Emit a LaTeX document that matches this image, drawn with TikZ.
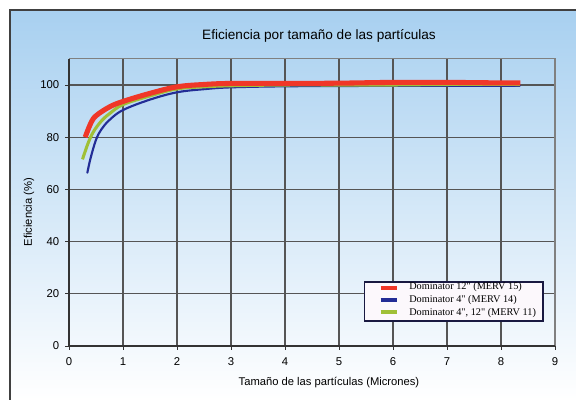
\documentclass[tikz,border=0pt]{standalone}
\usepackage{fontspec}
\setmainfont{Liberation Sans}
\newfontfamily\legendfont{Liberation Serif}
\usetikzlibrary{positioning}
\definecolor{R4}{RGB}{240,55,40}
\definecolor{B4}{RGB}{35,45,150}
\definecolor{G4}{RGB}{160,192,55}
\definecolor{S4}{RGB}{168,208,240}
\definecolor{K4}{RGB}{85,85,85}
\definecolor{N4}{RGB}{25,25,65}
\tikzset{
  ticklab/.style={inner sep=0pt, font=\fontsize{8.5}{8.5}\selectfont},
  axlab/.style={inner sep=0pt, font=\fontsize{8.4}{8.4}\selectfont},
  leglab/.style={inner sep=0pt, anchor=base west, font=\legendfont\fontsize{7.7}{7.7}\selectfont},
}

\begin{document}
\begin{tikzpicture}[x=0.75pt,y=0.75pt]
  \useasboundingbox (0,0) rectangle (576,400);
  \fill[top color=S4, bottom color=white] (10,0) rectangle (576,390);
  \draw[line width=0.9pt, black!75] (10,-2) -- (10,390) -- (578,390);
  \node[inner sep=0pt, font=\fontsize{10.2}{10.2}\selectfont] (title) at (319,364.5) {Eficiencia por tamaño de las partículas};
  \node[axlab] (xlabel) at (329,17.5) {Tamaño de las partículas (Micrones)};
  \node[axlab, rotate=90] (ylabel) at (29,188) {Eficiencia (\%)};
  \begin{scope}[shift={(51.75pt,40.5pt)}, x=40.5pt, y=1.9575pt]
    % grid
    \foreach \i in {1,...,8} \draw[K4, line width=0.9pt] (\i,0) -- (\i,110);
    \foreach \j in {20,40,...,100} \draw[K4, line width=0.9pt] (0,\j) -- (9,\j);
    \draw[gray, line width=0.9pt] (0,110) -- (9,110) -- (9,0);
    \draw[black!80, line width=0.9pt] (0,110) -- (0,0) -- (9,0);
    % ticks and labels
    \foreach \i in {0,...,9} {
      \draw[black!80, line width=0.7pt] (\i,0) -- ++(0,-3pt);
      \node[ticklab, anchor=north] (xt\i) at ([yshift=-8.5pt]\i,0) {\i};
    }
    \foreach \j in {0,20,...,100} {
      \draw[black!80, line width=0.7pt] (0,\j) -- ++(-2.7pt,0);
      \node[ticklab, anchor=east] (yt\j) at ([xshift=-7.1pt]0,\j) {\j};
    }
    % curves
    \draw[B4, line width=1.6pt, line cap=round] plot[smooth, tension=0.6] coordinates {(0.34,66.4) (0.4,72) (0.5,79) (0.6,83) (0.75,86.6) (1,90.4) (1.5,94.4) (2,97.2) (2.5,98.4) (3,99.1) (4,99.5) (5,99.6) (6,99.7) (7,99.7) (8.35,99.7)};
    \draw[G4, line width=2.3pt] plot[smooth, tension=0.6] coordinates {(0.25,71.5) (0.35,77.5) (0.45,82) (0.6,86.2) (0.75,89) (1,92.5) (1.5,95.8) (2,98.5) (2.5,99.3) (3,99.7) (4,100) (5,100) (6,100) (7,100.2) (8.35,100.2)};
    \draw[R4, line width=3.8pt] plot[smooth, tension=0.6] coordinates {(0.3,80) (0.4,85.2) (0.5,88.2) (0.75,91.6) (1,93.7) (1.5,96.8) (2,99.3) (2.5,100.2) (3,100.6) (4,100.6) (5,100.7) (6,101) (7,101) (8,100.8) (8.36,100.8)};
  \end{scope}
  % legend
  \draw[fill={rgb,255:red,252;green,248;blue,252}, draw=N4, line width=0.9pt] (364.5,118) rectangle (543,79);
  \draw[R4, line width=3pt] (380.5,112) -- (397,112);
  \draw[B4, line width=2.4pt] (380.5,100) -- (397,100);
  \draw[G4, line width=3pt] (380.5,88) -- (397,88);
  \node[leglab] (leg1) at (409,110.5) {Dominator 12" (MERV 15)};
  \node[leglab] (leg2) at (409,97.5) {Dominator 4" (MERV 14)};
  \node[leglab] (leg3) at (409,84.5) {Dominator 4", 12" (MERV 11)};
\end{tikzpicture}
\end{document}
